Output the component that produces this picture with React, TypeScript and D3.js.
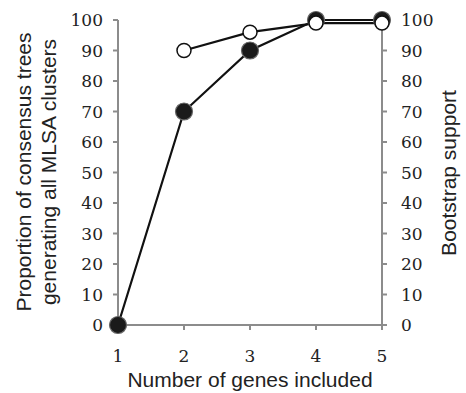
import { useRef, useEffect } from 'react';
import * as d3 from 'd3';

// Number of genes on the x axis
const GENES = [1, 2, 3, 4, 5];
// Proportion of consensus trees generating all MLSA clusters (filled markers)
const PROPORTION = [0, 70, 90, 100, 100];
// Bootstrap support (open markers), no value for 1 gene
const BOOT_GENES = [2, 3, 4, 5];
const BOOTSTRAP = [90, 96, 99, 99];
const Y_TICKS = [0, 10, 20, 30, 40, 50, 60, 70, 80, 90, 100];

const W = 466;
const H = 393;

export default function App() {
  const svgRef = useRef<SVGSVGElement>(null);

  useEffect(() => {
    if (!svgRef.current) return;
    const svg = d3.select(svgRef.current);
    svg.selectAll('*').remove();

    const left = 118;
    const right = 382;
    const top = 20;
    const bottom = 325;
    const axisColor = '#8c8c8c';
    const serif = '"DejaVu Serif", serif';
    const sans = '"Liberation Sans", Arial, sans-serif';

    const x = d3.scaleLinear().domain([1, 5]).range([left, right]);
    const y = d3.scaleLinear().domain([0, 100]).range([bottom, top]);

    // axes lines
    const axes = svg.append('g').attr('stroke', axisColor).attr('stroke-width', 2);
    axes.append('line').attr('x1', left).attr('x2', left).attr('y1', top).attr('y2', bottom);
    axes.append('line').attr('x1', right).attr('x2', right).attr('y1', top).attr('y2', bottom);
    axes.append('line').attr('x1', left).attr('x2', right).attr('y1', bottom).attr('y2', bottom);

    Y_TICKS.forEach(t => {
      axes.append('line').attr('x1', left - 5).attr('x2', left).attr('y1', y(t)).attr('y2', y(t));
      axes.append('line').attr('x1', right).attr('x2', right + 5).attr('y1', y(t)).attr('y2', y(t));
    });
    GENES.forEach(g => {
      axes.append('line').attr('x1', x(g)).attr('x2', x(g)).attr('y1', bottom).attr('y2', bottom + 5);
    });

    // tick labels
    const labels = svg.append('g').attr('font-family', serif).attr('font-size', 17).attr('fill', '#222');
    Y_TICKS.forEach(t => {
      labels.append('text').attr('x', left - 15).attr('y', y(t)).attr('dy', '0.36em')
        .attr('text-anchor', 'end').text(t);
      labels.append('text').attr('x', right + 19).attr('y', y(t)).attr('dy', '0.36em')
        .attr('text-anchor', 'start').text(t);
    });
    GENES.forEach(g => {
      labels.append('text').attr('x', x(g)).attr('y', 362).attr('text-anchor', 'middle').text(g);
    });

    // titles
    const titles = svg.append('g').attr('font-family', sans).attr('fill', '#222').attr('font-size', 21);
    titles.append('text').attr('x', 250).attr('y', 387).attr('text-anchor', 'middle')
      .text('Number of genes included');
    titles.append('text').attr('transform', 'translate(31,172) rotate(-90)').attr('text-anchor', 'middle')
      .text('Proportion of consensus trees');
    titles.append('text').attr('transform', 'translate(56,172) rotate(-90)').attr('text-anchor', 'middle')
      .text('generating all MLSA clusters');
    titles.append('text').attr('transform', 'translate(456,173) rotate(-90)').attr('text-anchor', 'middle')
      .text('Bootstrap support');

    // lines
    const line = d3.line<[number, number]>().x(d => x(d[0])).y(d => y(d[1]));
    const propPts: [number, number][] = GENES.map((g, i) => [g, PROPORTION[i]]);
    const bootPts: [number, number][] = BOOT_GENES.map((g, i) => [g, BOOTSTRAP[i]]);

    svg.append('path').attr('d', line(propPts)).attr('fill', 'none')
      .attr('stroke', '#111').attr('stroke-width', 2.2);
    svg.append('path').attr('d', line(bootPts)).attr('fill', 'none')
      .attr('stroke', '#111').attr('stroke-width', 2.2);

    // filled markers
    svg.append('g').selectAll('circle').data(propPts).join('circle')
      .attr('cx', d => x(d[0])).attr('cy', d => y(d[1])).attr('r', 8.5)
      .attr('fill', '#1a1a1a').attr('stroke', '#666').attr('stroke-width', 1.2);

    // open markers
    svg.append('g').selectAll('circle').data(bootPts).join('circle')
      .attr('cx', d => x(d[0])).attr('cy', d => y(d[1])).attr('r', 7)
      .attr('fill', '#fff').attr('stroke', '#111').attr('stroke-width', 1.5);
  }, []);

  return (
    <svg
      ref={svgRef}
      width={W}
      height={H}
      style={{ position: 'absolute', left: 0, top: 0, background: '#fff' }}
    />
  );
}
